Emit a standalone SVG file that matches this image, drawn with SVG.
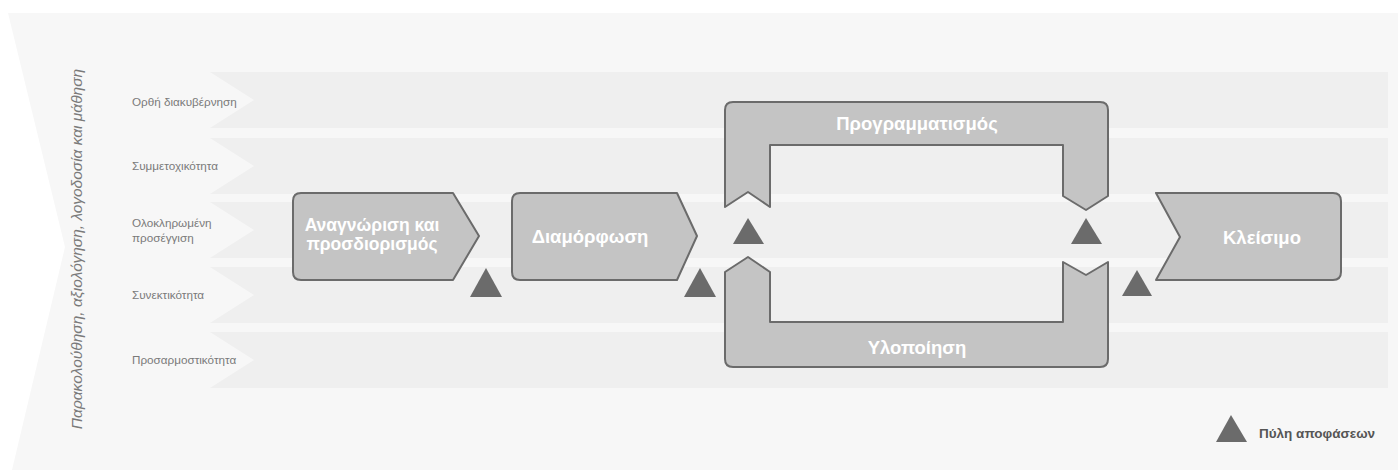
<svg xmlns="http://www.w3.org/2000/svg" width="1398" height="473" viewBox="0 0 1398 473">
<style>
.row{fill:#efefef}
.lbl{font-family:"Liberation Sans",Arial,sans-serif;font-size:11.7px;fill:#7a7a7a}
.node{fill:#c4c4c4;stroke:#6b6b6b;stroke-width:2;stroke-linejoin:round}
.nt{font-family:"Liberation Sans",Arial,sans-serif;font-size:18.5px;font-weight:bold;fill:#ffffff;text-anchor:middle}
.gate{fill:#6b6b6b}
</style>
<rect width="1398" height="473" fill="#ffffff"/>
<g id="background">
<path d="M8,13 L1398,13 L1398,470 L12,470 L65,247 Z" fill="#f7f7f7"/>
<text class="lbl" style="font-size:15.5px;font-style:italic" transform="translate(82,249) rotate(-90)" text-anchor="middle">Παρακολούθηση, αξιολόγηση, λογοδοσία και μάθηση</text>
</g>
<g id="rows">
<path class="row" d="M210,72 L1388,72 L1388,128 L210,128 L254,100 Z"/>
<path class="row" d="M210,138 L1388,138 L1388,194 L210,194 L254,166 Z"/>
<path class="row" d="M210,202 L1388,202 L1388,258 L210,258 L254,230 Z"/>
<path class="row" d="M210,267 L1388,267 L1388,323 L210,323 L254,295 Z"/>
<path class="row" d="M210,332 L1388,332 L1388,388 L210,388 L254,360 Z"/>
<text class="lbl" x="132" y="106">Ορθή διακυβέρνηση</text>
<text class="lbl" x="132" y="170">Συμμετοχικότητα</text>
<text class="lbl" x="132" y="227">Ολοκληρωμένη</text>
<text class="lbl" x="132" y="242">προσέγγιση</text>
<text class="lbl" x="132" y="299">Συνεκτικότητα</text>
<text class="lbl" x="132" y="364">Προσαρμοστικότητα</text>
</g>
<g id="node-anagnorisi">
<path class="node" d="M301,193 L453,193 L479,236 L453,280 L301,280 Q293,280 293,272 L293,201 Q293,193 301,193 Z"/>
<text class="nt" style="font-size:17.5px" x="372" y="231">Αναγνώριση και</text>
<text class="nt" style="font-size:17.5px" x="372" y="250">προσδιορισμός</text>
</g>
<g id="node-diamorfosi">
<path class="node" d="M520,193 L677,193 L697,236 L677,280 L520,280 Q512,280 512,272 L512,201 Q512,193 520,193 Z"/>
<text class="nt" x="590" y="243">Διαμόρφωση</text>
</g>
<g id="node-programmatismos">
<path class="node" d="M725,207 L725,110 Q725,102 733,102 L1100,102 Q1108,102 1108,110 L1108,196 L1086,210 L1063,196 L1063,145 L770,145 L770,207 L748,192 Z"/>
<text class="nt" x="917" y="130">Προγραμματισμός</text>
</g>
<g id="node-ylopoiisi">
<path class="node" d="M725,272 L748,257 L770,272 L770,322 L1063,322 L1063,262 L1086,275 L1108,262 L1108,359 Q1108,367 1100,367 L733,367 Q725,367 725,359 Z"/>
<text class="nt" x="917" y="354">Υλοποίηση</text>
</g>
<g id="node-kleisimo">
<path class="node" d="M1156,193 L1333,193 Q1341,193 1341,201 L1341,272 Q1341,280 1333,280 L1156,280 L1180,237 Z"/>
<text class="nt" x="1262" y="244">Κλείσιμο</text>
</g>
<g id="gates">
<polygon class="gate" points="470,297 486,268 502,297"/>
<polygon class="gate" points="684,297 700,268 716,297"/>
<polygon class="gate" points="733,244 748,218 764,244"/>
<polygon class="gate" points="1071,244 1086,218 1102,244"/>
<polygon class="gate" points="1122,296 1137,270 1152,296"/>
</g>
<g id="legend">
<polygon class="gate" points="1216,442 1231,415 1247,442"/>
<text x="1259" y="438" style="font-family:'Liberation Sans',Arial,sans-serif;font-size:13.5px;font-weight:bold;fill:#555">Πύλη αποφάσεων</text>
</g>
</svg>
